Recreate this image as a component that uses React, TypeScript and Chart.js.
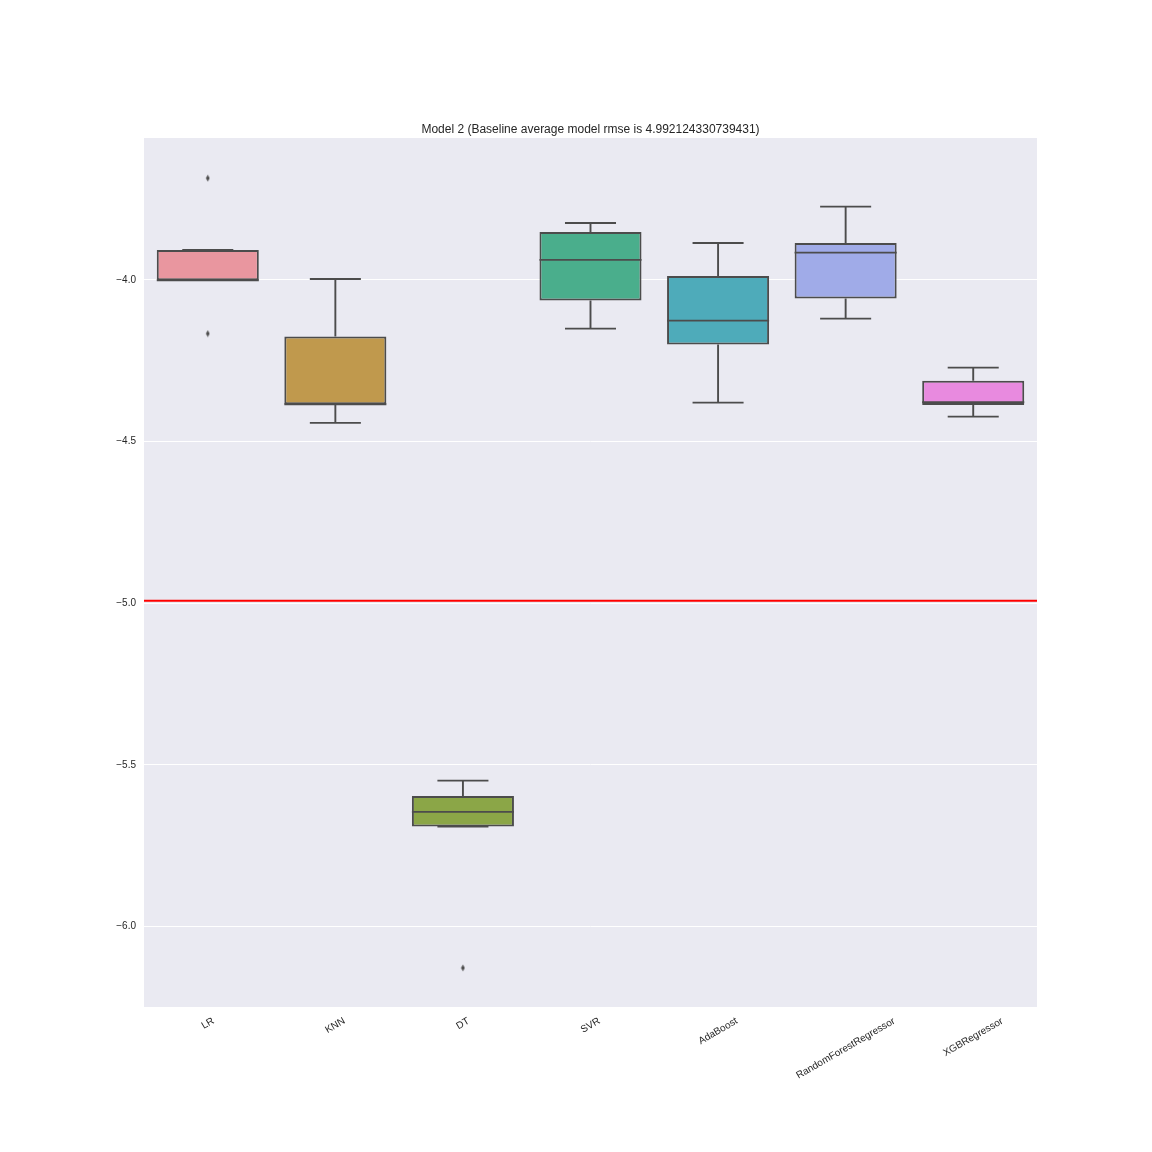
import React, { useEffect, useRef } from "react";
import { Chart, registerables } from "chart.js";

Chart.register(...registerables);

const categories = ["LR", "KNN", "DT", "SVR", "AdaBoost", "RandomForestRegressor", "XGBRegressor"];
const whiskerLow = [-4.001, -4.4423, -5.691, -4.1506, -4.3795, -4.1197, -4.4228];
const q1 = [-4.001, -4.3846, -5.691, -4.064, -4.2001, -4.0578, -4.3866];
const median = [-4.001, -4.3846, -5.6455, -3.9381, -4.1259, -3.9156, -4.3784];
const q3 = [-3.9072, -4.175, -5.596, -3.8515, -3.9876, -3.8856, -4.3115];
const whiskerHigh = [-3.9072, -3.997, -5.5487, -3.8237, -3.8856, -3.7733, -4.2713];
const outlierCategories = ["LR", "LR", "DT"];
const outlierValues = [-3.6853, -4.166, -6.128];
const boxColors = ["#E9969F", "#C0994D", "#8BA647", "#4AAE8C", "#4EABBA", "#A0ABE8", "#E88ADF"];
const yTicks = [-6.0, -5.5, -5.0, -4.5, -4.0];
const baseline = -4.992124330739431;
const titleText = "Model 2 (Baseline average model rmse is 4.992124330739431)";

const FONT = "'Liberation Sans', Arial, sans-serif";
const LINE = "#4c4c4c";
const TEXT = "#262626";
const LW = 1.9;

function makeDiamond(): HTMLCanvasElement {
  const c = document.createElement("canvas");
  c.width = 5;
  c.height = 8;
  const g = c.getContext("2d")!;
  g.fillStyle = LINE;
  g.beginPath();
  g.moveTo(2.5, 0.5);
  g.lineTo(4.3, 4);
  g.lineTo(2.5, 7.5);
  g.lineTo(0.7, 4);
  g.closePath();
  g.fill();
  return c;
}

const boxPlugin = {
  id: "boxParts",
  beforeDraw(chart: any) {
    const { ctx, chartArea } = chart;
    ctx.save();
    ctx.fillStyle = "#EAEAF2";
    ctx.fillRect(chartArea.left, chartArea.top, chartArea.right - chartArea.left, chartArea.bottom - chartArea.top);
    ctx.restore();
  },
  beforeDatasetsDraw(chart: any) {
    const { ctx, chartArea, scales } = chart;
    const y = scales.y.getPixelForValue(baseline);
    ctx.save();
    ctx.strokeStyle = "#FF0000";
    ctx.lineWidth = 2;
    ctx.beginPath();
    ctx.moveTo(chartArea.left, y);
    ctx.lineTo(chartArea.right, y);
    ctx.stroke();
    ctx.restore();
  },
  afterDatasetsDraw(chart: any) {
    const { ctx, scales } = chart;
    const xs = scales.x;
    const ys = scales.y;
    const cat = xs.getPixelForValue(1) - xs.getPixelForValue(0);
    const boxHalf = cat * 0.4;
    const capHalf = cat * 0.2;
    ctx.save();
    ctx.strokeStyle = LINE;
    ctx.lineWidth = LW;
    ctx.lineCap = "butt";
    categories.forEach((_, i) => {
      const x = xs.getPixelForValue(i);
      const yLo = ys.getPixelForValue(whiskerLow[i]);
      const yQ1 = ys.getPixelForValue(q1[i]);
      const yMed = ys.getPixelForValue(median[i]);
      const yQ3 = ys.getPixelForValue(q3[i]);
      const yHi = ys.getPixelForValue(whiskerHigh[i]);
      ctx.beginPath();
      ctx.moveTo(x, yQ3);
      ctx.lineTo(x, yHi);
      ctx.moveTo(x - capHalf, yHi);
      ctx.lineTo(x + capHalf, yHi);
      ctx.moveTo(x, yQ1);
      ctx.lineTo(x, yLo);
      ctx.moveTo(x - capHalf, yLo);
      ctx.lineTo(x + capHalf, yLo);
      ctx.moveTo(x - boxHalf, yMed);
      ctx.lineTo(x + boxHalf, yMed);
      ctx.stroke();
    });
    ctx.restore();
  },
  afterDraw(chart: any) {
    const { ctx, chartArea, scales } = chart;
    const xs = scales.x;
    ctx.save();
    ctx.font = `10px ${FONT}`;
    ctx.fillStyle = TEXT;
    ctx.textAlign = "center";
    ctx.textBaseline = "middle";
    const top = chartArea.bottom + 9;
    const ang = Math.PI / 6;
    categories.forEach((label, i) => {
      const x = xs.getPixelForValue(i);
      const w = ctx.measureText(label).width;
      const h = 10;
      const bh = w * Math.sin(ang) + h * Math.cos(ang);
      ctx.save();
      ctx.translate(x, top + bh / 2);
      ctx.rotate(-ang);
      ctx.fillText(label, 0, 0);
      ctx.restore();
    });
    ctx.restore();
  },
};

export default function App() {
  const ref = useRef<HTMLCanvasElement | null>(null);
  useEffect(() => {
    if (!ref.current) return;
    const diamond = makeDiamond();
    const chart = new Chart(ref.current, {
      type: "bar",
      data: {
        labels: categories,
        datasets: [
          {
            type: "bar",
            data: categories.map((_, i) => [q1[i], q3[i]]) as any,
            backgroundColor: boxColors,
            borderColor: LINE,
            borderWidth: 2,
            borderSkipped: false,
            barPercentage: 0.8,
            categoryPercentage: 1,
          } as any,
          {
            type: "scatter",
            data: outlierCategories.map((c, i) => ({ x: c, y: outlierValues[i] })) as any,
            pointStyle: diamond as any,
            pointRadius: 4,
            backgroundColor: LINE,
            borderColor: LINE,
          } as any,
        ],
      },
      options: {
        responsive: false,
        animation: false,
        events: [],
        layout: { padding: { left: 104, right: 115, top: 100, bottom: 145 } },
        plugins: {
          legend: { display: false },
          tooltip: { enabled: false },
          title: {
            display: true,
            text: titleText,
            fullSize: false,
            color: TEXT,
            font: { family: FONT, size: 12, weight: "normal" },
            padding: { top: 22, bottom: 1.6 },
          },
        },
        scales: {
          x: {
            type: "category",
            offset: true,
            grid: { display: false, drawTicks: false },
            border: { display: false },
            ticks: { display: false },
            afterFit: (s: any) => {
              s.height = 0;
            },
          },
          y: {
            type: "linear",
            min: -6.249,
            max: -3.561,
            grid: { color: "#FFFFFF", lineWidth: 1, drawTicks: false },
            border: { display: false },
            afterBuildTicks: (s: any) => {
              s.ticks = yTicks.map((v) => ({ value: v }));
            },
            afterFit: (s: any) => {
              s.width = 40;
              s.paddingTop = 0;
              s.paddingBottom = 0;
            },
            ticks: {
              padding: 8,
              color: TEXT,
              font: { family: FONT, size: 10 },
              callback: (v: any) => Number(v).toFixed(1).replace("-", "\u2212"),
            },
          },
        },
      } as any,
      plugins: [boxPlugin],
    });
    return () => chart.destroy();
  }, []);
  return (
    <div style={{ position: "absolute", left: 0, top: 0, width: 1152, height: 1152, background: "#fff" }}>
      <canvas ref={ref} width={1152} height={1152} style={{ display: "block" }} />
    </div>
  );
}
